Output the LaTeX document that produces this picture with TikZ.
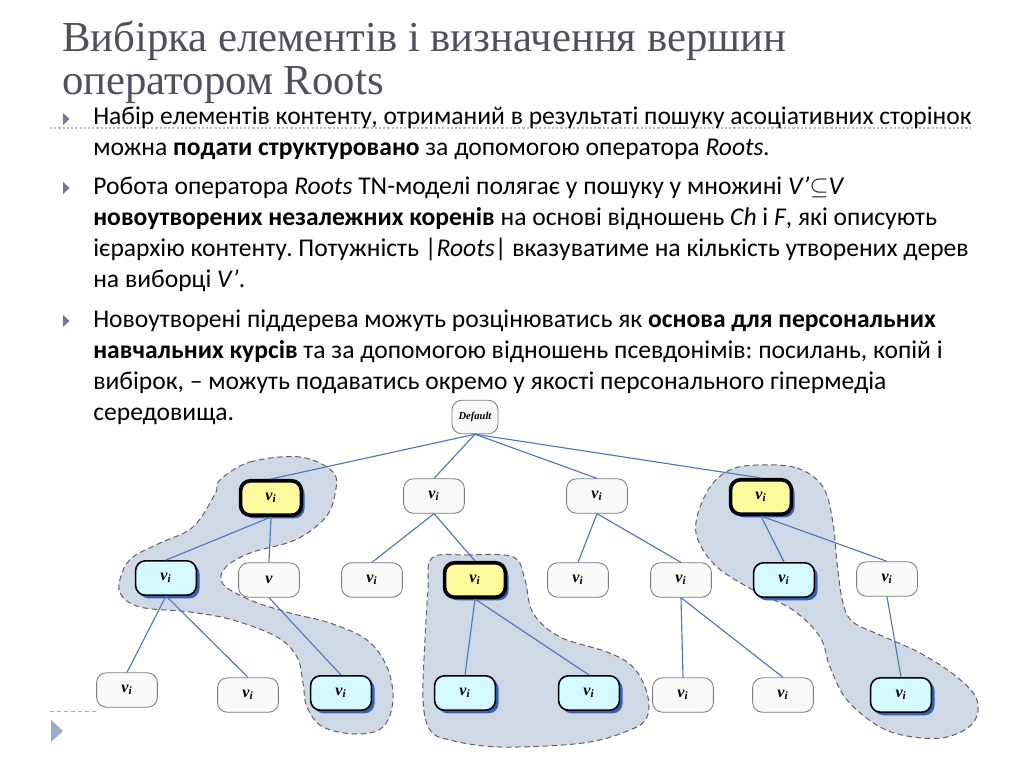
\documentclass[tikz,border=0pt]{standalone}
\usepackage{fontspec}
\setmainfont{Carlito}
\newfontfamily\titlefont{Liberation Serif}
\newfontfamily\nodefont{Liberation Serif}
\usetikzlibrary{shadows}
\frenchspacing
\definecolor{titlegray}{RGB}{80,80,92}
\definecolor{edgeblue}{RGB}{78,118,185}
\definecolor{blobfill}{RGB}{206,217,229}
\definecolor{blobline}{RGB}{95,95,100}
\definecolor{whitefill}{RGB}{249,249,247}
\definecolor{whiteline}{RGB}{125,125,125}
\definecolor{cyanfill}{RGB}{212,250,255}
\definecolor{yellowfill}{RGB}{255,250,155}
\definecolor{shadowblue}{RGB}{55,95,175}
\definecolor{bulletgray}{RGB}{110,120,145}
\definecolor{decoblue}{RGB}{150,172,202}
\definecolor{sepgray}{RGB}{185,185,185}
\tikzset{
  titletext/.style={anchor=base west, inner sep=0pt, text=titlegray, font=\titlefont\fontsize{30.4}{30}\selectfont},
  bodytext/.style={anchor=base west, inner sep=0pt, font=\fontsize{18.2}{22}\selectfont},
  bulletmark/.style={fill=bulletgray},
  wnode/.style={rounded corners=7pt, draw=whiteline, line width=0.6pt, fill=whitefill,
    minimum width=1.52cm, minimum height=0.86cm, inner sep=0pt,
    font=\nodefont\bfseries\itshape\fontsize{11.5}{13}\selectfont},
  cnode/.style={wnode, draw=black, line width=1.1pt, fill=cyanfill,
    drop shadow={shadow xshift=2.2pt, shadow yshift=-2.2pt, fill=shadowblue, opacity=1}},
  ynode/.style={cnode, line width=2.6pt, fill=yellowfill},
  dnode/.style={wnode, minimum width=1.15cm, minimum height=0.84cm,
    font=\nodefont\bfseries\itshape\fontsize{7.5}{8}\selectfont},
  edge/.style={draw=edgeblue, line width=0.8pt},
  blob/.style={fill=blobfill, draw=blobline, line width=0.7pt, dash pattern=on 4pt off 2.5pt},
}
\newcommand{\vi}{v\textsubscript{\itshape i}}
\begin{document}
\begin{tikzpicture}[x=0.025cm,y=-0.025cm]
\fill[white] (0,0) rectangle (1024,768);
\useasboundingbox (0,0) rectangle (1024,768);

% title
\node[titletext] (t1) at (62,52) {Вибірка елементів і визначення вершин};
\node[titletext] (t2) at (62,95) {оператором Roots};
\draw[sepgray, line width=0.8pt, dash pattern=on 1.5pt off 1.5pt] (50,128) -- (970,128);

% bullets
\foreach \b in {125,194,327}{
  \fill[bulletmark] (63,\b-12) -- (69.5,\b-6) -- (63,\b) -- cycle;
}
\node[bodytext] (l1) at (93,125) {Набір елементів контенту, отриманий в результаті пошуку асоціативних сторінок};
\node[bodytext] (l2) at (93,156) {можна \textbf{подати структуровано} за допомогою оператора \textit{Roots.}};
\node[bodytext] (l3) at (93,194) {Робота оператора \textit{Roots} TN-моделі полягає у пошуку у множині \textit{V’}$\subseteq$\textit{V}};
\node[bodytext] (l4) at (93,225) {\textbf{новоутворених незалежних коренів} на основі відношень \textit{Ch} і \textit{F}, які описують};
\node[bodytext] (l5) at (93,256) {ієрархію контенту. Потужність |\textit{Roots}| вказуватиме на кількість утворених дерев};
\node[bodytext] (l6) at (93,287) {на виборці \textit{V’}.};
\node[bodytext] (l7) at (93,327) {Новоутворені піддерева можуть розцінюватись як \textbf{основа для персональних}};
\node[bodytext] (l8) at (93,358) {\textbf{навчальних курсів} та за допомогою відношень псевдонімів: посилань, копій і};
\node[bodytext] (l9) at (93,389) {вибірок, – можуть подаватись окремо у якості персонального гіпермедіа};
\node[bodytext] (l10) at (93,420) {середовища.};

% blobs
\draw[blob] plot[smooth cycle, tension=0.6] coordinates {
  (220,480) (250,462) (300,457) (333,472) (335,494) (325,518) (295,540) (250,553)
  (225,568) (223,584) (250,600) (290,613) (330,623) (367,640) (387,667) (393,700)
  (383,727) (357,734) (323,727) (307,707) (303,683) (297,657) (277,637) (233,620)
  (190,612) (140,607) (120,593) (122,573) (133,557) (160,543) (193,527) (215,494)};
\draw[blob] plot[smooth cycle, tension=0.6] coordinates {
  (432,558) (467,555) (513,557) (525,580) (533,613) (560,637) (607,652) (633,667)
  (647,693) (647,717) (630,730) (583,743) (500,747) (450,740) (430,730) (423,700)
  (425,640) (428,590)};
\draw[blob] plot[smooth cycle, tension=0.6] coordinates {
  (757,465) (797,468) (823,487) (833,523) (837,563) (843,603) (853,622) (880,635)
  (920,653) (957,677) (977,700) (973,723) (947,737) (913,737) (880,727) (847,700)
  (830,667) (820,637) (793,610) (753,590) (717,567) (698,540) (697,517) (710,487)
  (730,470)};

% nodes
\node[dnode] (D) at (475,417) {Default};
\node[ynode] (A1) at (271,498) {\vi};
\node[wnode] (A2) at (434,496) {\vi};
\node[wnode] (A3) at (597,496) {\vi};
\node[ynode] (A4) at (761,497) {\vi};
\node[cnode] (B1) at (166,578) {\vi};
\node[wnode] (B2) at (269,580) {v};
\node[wnode] (B3) at (372,580) {\vi};
\node[ynode] (B4) at (475,580) {\vi};
\node[wnode] (B5) at (578,580) {\vi};
\node[wnode] (B6) at (681,580) {\vi};
\node[cnode] (B7) at (784,580) {\vi};
\node[wnode] (B8) at (887,579) {\vi};
\node[wnode] (C1) at (127,690) {\vi};
\node[wnode] (C2) at (248,695) {\vi};
\node[cnode] (C3) at (341,693) {\vi};
\node[cnode] (C4) at (465,693) {\vi};
\node[cnode] (C5) at (589,693) {\vi};
\node[wnode] (C6) at (683,695) {\vi};
\node[wnode] (C7) at (783,695) {\vi};
\node[cnode] (C8) at (901,695) {\vi};

% edges
\foreach \p/\c in {D/A1,D/A2,D/A3,D/A4,A1/B1,A1/B2,A2/B3,A2/B4,A3/B5,A3/B6,A4/B7,A4/B8,
  B1/C1,B1/C2,B2/C3,B4/C4,B4/C5,B6/C6,B6/C7,B8/C8}{
  \draw[edge] (\p.south) -- (\c.north);
}

% decoration bottom left
\draw[decoblue, line width=0.7pt, dash pattern=on 3pt off 2pt] (50,711) -- (97,711);
\fill[decoblue] (51,720) -- (63,731) -- (51,742) -- cycle;
\end{tikzpicture}
\end{document}
